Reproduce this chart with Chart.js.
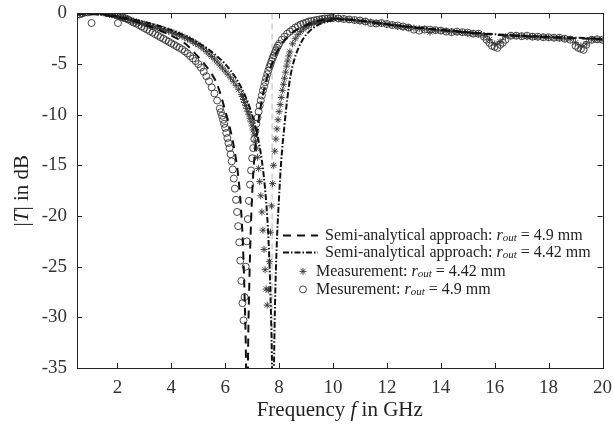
<!DOCTYPE html>
<html>
<head>
<meta charset="utf-8">
<script src="https://cdn.jsdelivr.net/npm/chart.js@4/dist/chart.umd.min.js"></script>
<style>
  html, body { margin: 0; padding: 0; background: #fff; }
  canvas { display: block; }
</style>
</head>
<body>
<canvas id="chart" width="613" height="429"></canvas>
<script>
// Tick values
var xTicks = [2, 4, 6, 8, 10, 12, 14, 16, 18, 20];
var yTicks = [0, -5, -10, -15, -20, -25, -30, -35];

// Light dashed guide at the resonance of the 4.42 mm design (GHz)
var guideFreq = 7.74;

// Semi-analytical approach, r_out = 4.9 mm  [GHz, dB]
var semi49 = [
  [0.5, 0], [1, -0.05], [1.5, -0.2], [2, -0.4], [2.5, -0.7], [3, -1.1], [3.5, -1.6], [4, -2.2],
  [4.5, -2.95], [5, -4.3], [5.4, -5.6], [5.7, -7.0], [6.0, -9.6], [6.2, -11.6], [6.35, -13.6],
  [6.48, -16.0], [6.58, -19], [6.66, -23], [6.72, -28], [6.77, -34], [6.8, -42],
  [6.82, -42], [6.85, -33], [6.9, -26], [6.96, -20.5], [7.04, -15.8], [7.14, -12.6], [7.25, -10.3],
  [7.35, -8.7], [7.45, -7.4], [7.58, -6.1], [7.7, -5.2], [7.85, -4.2], [8.05, -3.2], [8.4, -2.1],
  [9.0, -1.15], [9.6, -0.65], [10, -0.5], [11, -0.75], [12, -1.1], [13, -1.4], [14, -1.65],
  [15, -1.9], [16, -2.1], [17, -2.25], [18, -2.35], [19, -2.45], [20, -2.55]
];

// Semi-analytical approach, r_out = 4.42 mm  [GHz, dB]
var semi442 = [
  [0.5, 0], [1, -0.03], [1.5, -0.12], [2, -0.3], [2.5, -0.55], [3, -0.85], [3.5, -1.2], [4, -1.65],
  [4.5, -2.2], [5, -2.9], [5.5, -3.8], [6, -5.0], [6.4, -6.4], [6.7, -7.9], [6.95, -9.6],
  [7.15, -11.5], [7.3, -13.5], [7.42, -15.8], [7.52, -18.6], [7.6, -22], [7.66, -26], [7.71, -31],
  [7.75, -37], [7.77, -42],
  [7.79, -42], [7.81, -35], [7.85, -28.5], [7.91, -23], [7.99, -18.5], [8.08, -14.5], [8.2, -11],
  [8.3, -8.5], [8.42, -6.2], [8.56, -4.6], [8.72, -3.4], [8.92, -2.4], [9.15, -1.7], [9.4, -1.2],
  [9.7, -0.85], [10, -0.65], [10.5, -0.6], [11, -0.7], [12, -1.05], [13, -1.35], [14, -1.6],
  [15, -1.85], [16, -2.05], [17, -2.2], [18, -2.3], [19, -2.4], [20, -2.5]
];

// Measurement, r_out = 4.42 mm  [GHz, dB]
var meas442 = [
  [0.6, -0.1], [0.7, 0.0], [0.8, 0.1], [0.9, 0.2], [1.0, 0.25], [1.1, 0.3], [1.2, 0.3], [1.3, 0.2],
  [1.4, 0.1], [1.5, 0.05], [1.6, 0.0], [1.7, -0.1], [1.8, -0.15], [1.9, -0.2], [2.0, -0.3],
  [2.1, -0.35], [2.2, -0.45], [2.3, -0.5], [2.4, -0.6], [2.5, -0.7], [2.6, -0.75], [2.7, -0.85],
  [2.8, -0.9], [2.9, -1.0], [3.0, -1.05], [3.1, -1.15], [3.2, -1.2], [3.3, -1.3], [3.4, -1.35],
  [3.5, -1.45], [3.6, -1.5], [3.7, -1.6], [3.8, -1.7], [3.9, -1.75], [4.0, -1.85], [4.1, -1.95],
  [4.2, -2.05], [4.3, -2.15], [4.4, -2.25], [4.5, -2.4], [4.6, -2.5], [4.7, -2.65], [4.8, -2.8],
  [4.9, -2.95], [5.0, -3.1], [5.1, -3.3], [5.2, -3.5], [5.3, -3.75], [5.4, -4.0], [5.5, -4.25],
  [5.6, -4.5], [5.7, -4.8], [5.8, -5.1], [5.9, -5.4], [6.0, -5.7], [6.1, -6.0], [6.2, -6.35],
  [6.3, -6.7], [6.4, -7.1], [6.5, -7.5], [6.6, -8.0],
  [6.64, -8.2], [6.68, -8.5], [6.72, -8.8], [6.76, -9.1], [6.8, -9.4], [6.84, -9.7], [6.88, -10.0],
  [6.92, -10.35], [6.96, -10.7], [7.0, -11.1], [7.04, -11.5], [7.08, -12.0], [7.12, -12.6],
  [7.16, -13.3], [7.2, -14.2], [7.24, -15.3], [7.28, -16.6], [7.32, -18.0], [7.36, -19.6],
  [7.4, -21.4], [7.44, -23.3], [7.48, -25.3], [7.52, -27.2], [7.56, -28.8], [7.6, -27.3],
  [7.64, -24.5], [7.68, -21.6], [7.72, -19.0], [7.76, -16.8], [7.8, -15.0], [7.84, -13.6],
  [7.88, -12.4], [7.92, -11.4], [7.96, -10.5], [8.0, -9.7], [8.04, -9.0], [8.08, -8.3],
  [8.12, -7.6], [8.16, -7.0], [8.2, -6.4], [8.24, -5.8], [8.28, -5.2], [8.32, -4.7], [8.36, -4.2],
  [8.4, -3.8],
  [8.5, -3.0], [8.6, -2.5], [8.7, -2.1], [8.8, -1.8], [8.9, -1.55], [9.0, -1.35], [9.1, -1.2],
  [9.2, -1.05], [9.3, -0.95], [9.4, -0.85], [9.5, -0.75], [9.6, -0.7], [9.7, -0.65], [9.8, -0.6],
  [9.9, -0.55], [10.0, -0.5],
  [10.2, -0.5], [10.4, -0.55], [10.6, -0.6], [10.8, -0.7], [11.0, -0.75], [11.2, -0.8],
  [11.4, -0.85], [11.6, -0.95], [11.8, -1.0], [12.0, -1.05], [12.2, -1.15], [12.4, -1.3],
  [12.6, -1.35], [12.8, -1.4], [13.0, -1.45], [13.2, -1.5], [13.4, -1.55], [13.6, -1.85],
  [13.8, -1.7], [14.0, -1.7], [14.2, -1.75], [14.4, -1.8], [14.6, -1.85], [14.8, -1.9],
  [15.0, -1.95], [15.2, -2.0], [15.4, -2.05], [15.6, -2.2], [15.8, -2.6], [16.0, -3.0],
  [16.2, -2.8], [16.4, -2.3], [16.6, -2.2], [16.8, -2.2], [17.0, -2.25], [17.2, -2.3],
  [17.4, -2.3], [17.6, -2.35], [17.8, -2.35], [18.0, -2.4], [18.2, -2.4], [18.4, -2.45],
  [18.6, -2.5], [18.8, -2.55], [19.0, -2.9], [19.2, -3.2], [19.4, -3.0], [19.6, -2.6],
  [19.8, -2.6], [20.0, -2.65]
];

// Mesurement, r_out = 4.9 mm  [GHz, dB]
var meas49 = [
  [0.6, -0.1], [0.7, 0.0], [0.8, 0.1], [0.9, 0.1], [1.0, 0.15], [1.04, -0.95], [1.1, 0.2],
  [1.2, 0.3], [1.3, 0.35], [1.4, 0.3], [1.5, 0.25], [1.6, 0.2], [1.7, 0.1], [1.8, 0.0],
  [1.9, -0.1], [2.0, -0.2], [2.02, -0.95], [2.1, -0.3], [2.2, -0.4], [2.3, -0.5], [2.4, -0.6],
  [2.5, -0.75], [2.6, -0.9], [2.7, -1.0], [2.8, -1.15], [2.9, -1.3], [3.0, -1.45], [3.1, -1.6],
  [3.2, -1.75], [3.3, -1.9], [3.4, -2.05], [3.5, -2.2], [3.6, -2.35], [3.7, -2.5], [3.8, -2.65],
  [3.9, -2.8], [4.0, -2.95], [4.1, -3.1], [4.2, -3.25], [4.3, -3.4], [4.4, -3.55], [4.5, -3.75],
  [4.6, -3.95], [4.7, -4.2], [4.8, -4.45], [4.9, -4.7], [5.0, -5.0], [5.1, -5.35], [5.2, -5.75],
  [5.3, -6.2], [5.4, -6.7], [5.5, -7.3], [5.6, -7.9], [5.7, -8.6], [5.8, -9.4],
  [5.84, -9.75], [5.88, -10.1], [5.92, -10.5], [5.96, -10.9], [6.0, -11.3], [6.04, -11.8],
  [6.08, -12.3], [6.12, -12.8], [6.16, -13.3], [6.2, -13.9], [6.24, -14.6], [6.28, -15.4],
  [6.32, -16.3], [6.36, -17.3], [6.4, -18.4], [6.44, -19.6], [6.48, -21.0], [6.52, -22.6],
  [6.56, -24.4], [6.6, -26.4], [6.64, -28.6], [6.68, -30.3], [6.72, -28.0], [6.76, -25.0],
  [6.8, -22.5], [6.84, -20.3], [6.88, -18.5], [6.92, -16.9], [6.96, -15.5], [7.0, -14.3],
  [7.04, -13.3], [7.08, -12.4], [7.12, -11.6], [7.16, -10.9], [7.2, -10.3], [7.24, -9.7],
  [7.28, -9.1], [7.32, -8.6], [7.36, -8.1], [7.4, -7.6], [7.44, -7.2], [7.48, -6.8], [7.52, -6.4],
  [7.56, -6.0], [7.6, -5.65], [7.64, -5.3], [7.68, -5.0], [7.72, -4.7], [7.76, -4.4], [7.8, -4.15],
  [7.84, -3.9], [7.88, -3.65], [7.92, -3.4], [7.96, -3.2], [8.0, -3.0],
  [8.1, -2.6], [8.2, -2.3], [8.3, -2.0], [8.4, -1.8], [8.5, -1.6], [8.6, -1.4], [8.7, -1.25],
  [8.8, -1.1], [8.9, -1.0], [9.0, -0.9], [9.1, -0.8], [9.2, -0.75], [9.3, -0.7], [9.4, -0.65],
  [9.5, -0.6], [9.6, -0.55], [9.7, -0.5], [9.8, -0.5], [9.9, -0.45], [10.0, -0.45],
  [10.2, -0.5], [10.4, -0.55], [10.6, -0.6], [10.8, -0.65], [11.0, -0.7], [11.2, -0.8],
  [11.4, -0.95], [11.6, -1.0], [11.8, -0.95], [12.0, -1.05], [12.2, -1.15], [12.4, -1.2],
  [12.6, -1.3], [12.8, -1.4], [13.0, -1.6], [13.2, -1.7], [13.4, -1.6], [13.6, -1.6],
  [13.8, -1.65], [14.0, -1.7], [14.2, -1.8], [14.4, -1.85], [14.6, -1.8], [14.8, -1.85],
  [15.0, -1.9], [15.2, -2.0], [15.4, -2.0], [15.6, -2.3], [15.7, -2.6], [15.8, -2.9],
  [15.9, -3.2], [16.0, -3.3], [16.1, -3.4], [16.2, -3.1], [16.3, -2.9], [16.4, -2.6],
  [16.6, -2.2], [16.8, -2.2], [17.0, -2.25], [17.2, -2.2], [17.4, -2.3], [17.6, -2.3],
  [17.8, -2.35], [18.0, -2.35], [18.2, -2.4], [18.4, -2.4], [18.6, -2.5], [18.8, -2.6],
  [19.0, -3.2], [19.1, -3.4], [19.2, -3.5], [19.3, -3.6], [19.4, -3.1], [19.6, -2.6],
  [19.8, -2.55], [20.0, -2.6]
];

var legendItems = [
  { kind: "dash", label: "Semi-analytical approach: ", radius: "4.9" },
  { kind: "dashdot", label: "Semi-analytical approach: ", radius: "4.42" },
  { kind: "star", label: "Measurement: ", radius: "4.42" },
  { kind: "circle", label: "Mesurement: ", radius: "4.9" }
];

var SERIF = "'Liberation Serif', 'Times New Roman', serif";

function toPoints(rows) {
  return rows.map(function (r) { return { x: r[0], y: r[1] }; });
}

// Draw text made of pieces with own font and baseline offset
function drawRich(ctx, x, y, parts) {
  parts.forEach(function (p) {
    ctx.font = p[1];
    ctx.fillText(p[0], x, y + (p[2] || 0));
    x += ctx.measureText(p[0]).width;
  });
  return x;
}

function richWidth(ctx, parts) {
  var w = 0;
  parts.forEach(function (p) {
    ctx.font = p[1];
    w += ctx.measureText(p[0]).width;
  });
  return w;
}

var framePlugin = {
  id: "frame",
  afterDatasetsDraw: function (chart) {
    var ctx = chart.ctx;
    var a = chart.chartArea;
    var xs = chart.scales.x;
    var ys = chart.scales.y;
    var tick = 5;
    ctx.save();
    ctx.strokeStyle = "#222";
    ctx.lineWidth = 1;
    ctx.setLineDash([]);
    ctx.beginPath();
    xTicks.forEach(function (v) {
      var px = Math.round(xs.getPixelForValue(v)) + 0.5;
      ctx.moveTo(px, a.bottom); ctx.lineTo(px, a.bottom - tick);
      ctx.moveTo(px, a.top); ctx.lineTo(px, a.top + tick);
    });
    yTicks.forEach(function (v) {
      var py = Math.round(ys.getPixelForValue(v)) + 0.5;
      ctx.moveTo(a.left, py); ctx.lineTo(a.left + tick, py);
      ctx.moveTo(a.right, py); ctx.lineTo(a.right - tick, py);
    });
    ctx.stroke();
    ctx.strokeRect(Math.round(a.left) + 0.5, Math.round(a.top) + 0.5,
      Math.round(a.right - a.left), Math.round(a.bottom - a.top));
    ctx.restore();
  },
  afterDraw: function (chart) {
    var ctx = chart.ctx;
    var a = chart.chartArea;
    ctx.save();
    ctx.fillStyle = "#222";
    ctx.textBaseline = "middle";

    // axis titles
    var xParts = [["Frequency ", "21px " + SERIF], ["f", "italic 21px " + SERIF], [" in GHz", "21px " + SERIF]];
    var cx = (a.left + a.right) / 2;
    drawRich(ctx, cx - richWidth(ctx, xParts) / 2, 410, xParts);

    var yParts = [["|", "21px " + SERIF], ["T", "italic 21px " + SERIF], ["| in dB", "21px " + SERIF]];
    ctx.save();
    ctx.translate(22, (a.top + a.bottom) / 2);
    ctx.rotate(-Math.PI / 2);
    drawRich(ctx, -richWidth(ctx, yParts) / 2, 0, yParts);
    ctx.restore();

    // legend
    var lx = a.left + 206;
    var rows = [a.top + 222, a.top + 239, a.top + 258, a.top + 276];
    legendItems.forEach(function (item, i) {
      var y = rows[i];
      var tx = lx + 42;
      ctx.strokeStyle = "#111";
      ctx.lineWidth = 2;
      if (item.kind === "dash" || item.kind === "dashdot") {
        ctx.setLineDash(item.kind === "dash" ? [8, 6] : [6, 2, 1.5, 2]);
        ctx.beginPath();
        ctx.moveTo(lx, y); ctx.lineTo(lx + 35, y);
        ctx.stroke();
        ctx.setLineDash([]);
      } else {
        tx = lx + 33;
        var mx = lx + 20;
        ctx.lineWidth = 0.9;
        ctx.strokeStyle = "#333";
        ctx.beginPath();
        if (item.kind === "circle") {
          ctx.arc(mx, y, 3.5, 0, Math.PI * 2);
        } else {
          for (var k = 0; k < 4; k++) {
            var ang = k * Math.PI / 4;
            ctx.moveTo(mx - 3.5 * Math.cos(ang), y - 3.5 * Math.sin(ang));
            ctx.lineTo(mx + 3.5 * Math.cos(ang), y + 3.5 * Math.sin(ang));
          }
        }
        ctx.stroke();
      }
      drawRich(ctx, tx, y, [
        [item.label, "16px " + SERIF],
        ["r", "italic 16px " + SERIF],
        ["out", "italic 11px " + SERIF, 3],
        [" = " + item.radius + " mm", "16px " + SERIF]
      ]);
    });
    ctx.restore();
  }
};

new Chart(document.getElementById("chart"), {
  type: "scatter",
  data: {
    datasets: [
      {
        label: "Semi-analytical approach: r_out = 4.9 mm",
        data: toPoints(semi49),
        showLine: true,
        borderColor: "#111",
        borderWidth: 2,
        borderDash: [8, 6],
        pointRadius: 0,
        cubicInterpolationMode: "monotone",
        order: 1
      },
      {
        label: "Semi-analytical approach: r_out = 4.42 mm",
        data: toPoints(semi442),
        showLine: true,
        borderColor: "#111",
        borderWidth: 2,
        borderDash: [6, 2, 1.5, 2],
        pointRadius: 0,
        cubicInterpolationMode: "monotone",
        order: 2
      },
      {
        label: "Measurement: r_out = 4.42 mm",
        data: toPoints(meas442),
        showLine: false,
        pointStyle: "star",
        pointRadius: 3.5,
        pointBorderWidth: 0.9,
        pointBorderColor: "#333",
        pointBackgroundColor: "rgba(0,0,0,0)",
        order: 4
      },
      {
        label: "Mesurement: r_out = 4.9 mm",
        data: toPoints(meas49),
        showLine: false,
        pointStyle: "circle",
        pointRadius: 3.5,
        pointBorderWidth: 0.9,
        pointBorderColor: "#333",
        pointBackgroundColor: "rgba(0,0,0,0)",
        order: 3
      },
      {
        label: "guide",
        data: [{ x: guideFreq, y: 0 }, { x: guideFreq, y: -35 }],
        showLine: true,
        borderColor: "#cfcfcf",
        borderWidth: 1.5,
        borderDash: [6, 4],
        pointRadius: 0,
        order: 10
      }
    ]
  },
  options: {
    responsive: false,
    animation: false,
    devicePixelRatio: 1,
    layout: { padding: { left: 0, right: 4, top: 2, bottom: 0 } },
    plugins: {
      legend: { display: false },
      tooltip: { enabled: false }
    },
    scales: {
      x: {
        type: "linear",
        min: 0.5,
        max: 20,
        grid: { display: false },
        border: { display: false },
        afterBuildTicks: function (scale) {
          scale.ticks = xTicks.map(function (v) { return { value: v }; });
        },
        afterFit: function (scale) { scale.height = 61; },
        ticks: {
          padding: 1,
          color: "#333",
          font: { family: SERIF, size: 19 },
          maxRotation: 0,
          autoSkip: false
        }
      },
      y: {
        type: "linear",
        min: -35,
        max: 0,
        grid: { display: false },
        border: { display: false },
        afterBuildTicks: function (scale) {
          scale.ticks = yTicks.map(function (v) { return { value: v }; });
        },
        afterFit: function (scale) { scale.width = 77; },
        ticks: {
          padding: 2,
          color: "#333",
          font: { family: SERIF, size: 19 }
        }
      }
    }
  },
  plugins: [framePlugin]
});
</script>
</body>
</html>
